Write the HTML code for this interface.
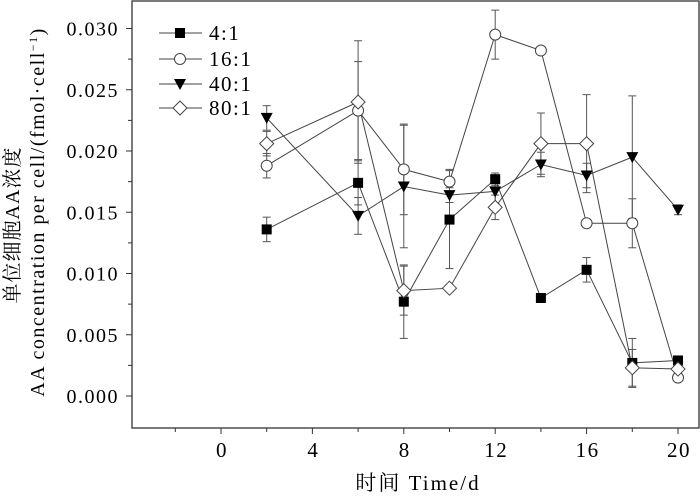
<!DOCTYPE html>
<html><head><meta charset="utf-8"><style>
html,body{margin:0;padding:0;background:#fff;}
svg text{font-family:"Liberation Serif","Noto Serif CJK SC",serif;fill:#000;letter-spacing:2px;}
</style></head><body>
<svg id="s" width="700" height="497" viewBox="0 0 700 497" xmlns="http://www.w3.org/2000/svg"></svg>
<script>
const s=document.getElementById('s');
const X=t=>221+22.85*t, Y=v=>396-12.25*v*1000;
let h='';
h+='<rect x="132" y="1" width="567" height="427" fill="none" stroke="#333" stroke-width="1.3"/>';
for(let t=-2;t<=20;t+=2){const x=X(t);const maj=t%4==0;h+=`<line x1="${x}" y1="428" x2="${x}" y2="${maj?434:432}" stroke="#333"/>`;
if(maj)h+=`<text x="${x+1}" y="457" font-size="21" text-anchor="middle" style="letter-spacing:1.5px">${t}</text>`;}
for(let i=0;i<=12;i++){const v=i*0.0025;const y=Y(v);const maj=i%2==0;h+=`<line x1="132" y1="${y}" x2="${maj?126:128}" y2="${y}" stroke="#333"/>`;
if(maj)h+=`<text x="119" y="${y+7}" font-size="20" text-anchor="end" style="letter-spacing:1.5px">${v.toFixed(3)}</text>`;}
h+='<text x="418" y="490" font-size="21" text-anchor="middle" style="letter-spacing:2px">时间 Time/d</text>';
h+='<text transform="translate(19,225) rotate(-90)" font-size="20" text-anchor="middle" style="letter-spacing:1px">单位细胞AA浓度</text>';
h+='<text transform="translate(44,212) rotate(-90)" font-size="20" text-anchor="middle" style="letter-spacing:1.5px">AA concentration per cell/(fmol·cell<tspan dy="-7" font-size="12">−1</tspan><tspan dy="7">)</tspan></text>';
const T=[2,6,8,10,12,14,16,18,20];
const D=[
 {m:'sq',v:[.0136,.0174,.0077,.0144,.0177,.0080,.0103,.0027,.0029],e:[.001,.0018,.003,.004,.0005,.0003,.001,.002,.0003]},
 {m:'ci',v:[.0188,.0233,.0185,.0175,.0295,.0282,.0141,.0141,.0015],e:[.001,.004,.0037,.001,.002,.0003,.0003,.002,.0003]},
 {m:'tr',v:[.0227,.0147,.0171,.0164,.0167,.0189,.0180,.0195,.0152],e:[.001,.0015,.005,.0006,.001,.001,.001,.005,.0004]},
 {m:'di',v:[.0206,.0240,.0086,.0088,.0154,.0206,.0206,.0023,.0022],e:[.001,.005,.002,.0003,.001,.0025,.004,.0015,.0003]}];
function mk(m,x,y){
 if(m=='sq')return `<rect x="${x-5}" y="${y-5}" width="10" height="10" fill="#000"/>`;
 if(m=='ci')return `<circle cx="${x}" cy="${y}" r="5.5" fill="#fff" stroke="#444"/>`;
 if(m=='tr')return `<polygon points="${x-6},${y-5} ${x+6},${y-5} ${x},${y+6}" fill="#000"/>`;
 return `<polygon points="${x},${y-7} ${x+7},${y} ${x},${y+7} ${x-7},${y}" fill="#fff" stroke="#444"/>`;}
let lines='',marks='',errs='';
D.forEach(d=>{
 lines+=`<polyline fill="none" stroke="#444" stroke-width="1" points="${T.map((t,i)=>X(t)+','+Y(d.v[i])).join(' ')}"/>`;
 T.forEach((t,i)=>{const x=X(t),a=Y(d.v[i]+d.e[i]),b=Y(d.v[i]-d.e[i]);
  errs+=`<line x1="${x}" y1="${a}" x2="${x}" y2="${b}" stroke="#555"/><line x1="${x-4}" y1="${a}" x2="${x+4}" y2="${a}" stroke="#555"/><line x1="${x-4}" y1="${b}" x2="${x+4}" y2="${b}" stroke="#555"/>`;
  marks+=mk(d.m,x,Y(d.v[i]));});
});
h+=errs+lines+marks;
const L=[['sq','4:1',33],['ci','16:1',59],['tr','40:1',84],['di','80:1',108]];
L.forEach(l=>{h+=`<line x1="159" y1="${l[2]}" x2="202" y2="${l[2]}" stroke="#444"/>`+mk(l[0],180,l[2])+`<text x="209" y="${l[2]+7}" font-size="21" style="letter-spacing:1.5px">${l[1]}</text>`;});
s.innerHTML=h;
</script>
</body></html>
